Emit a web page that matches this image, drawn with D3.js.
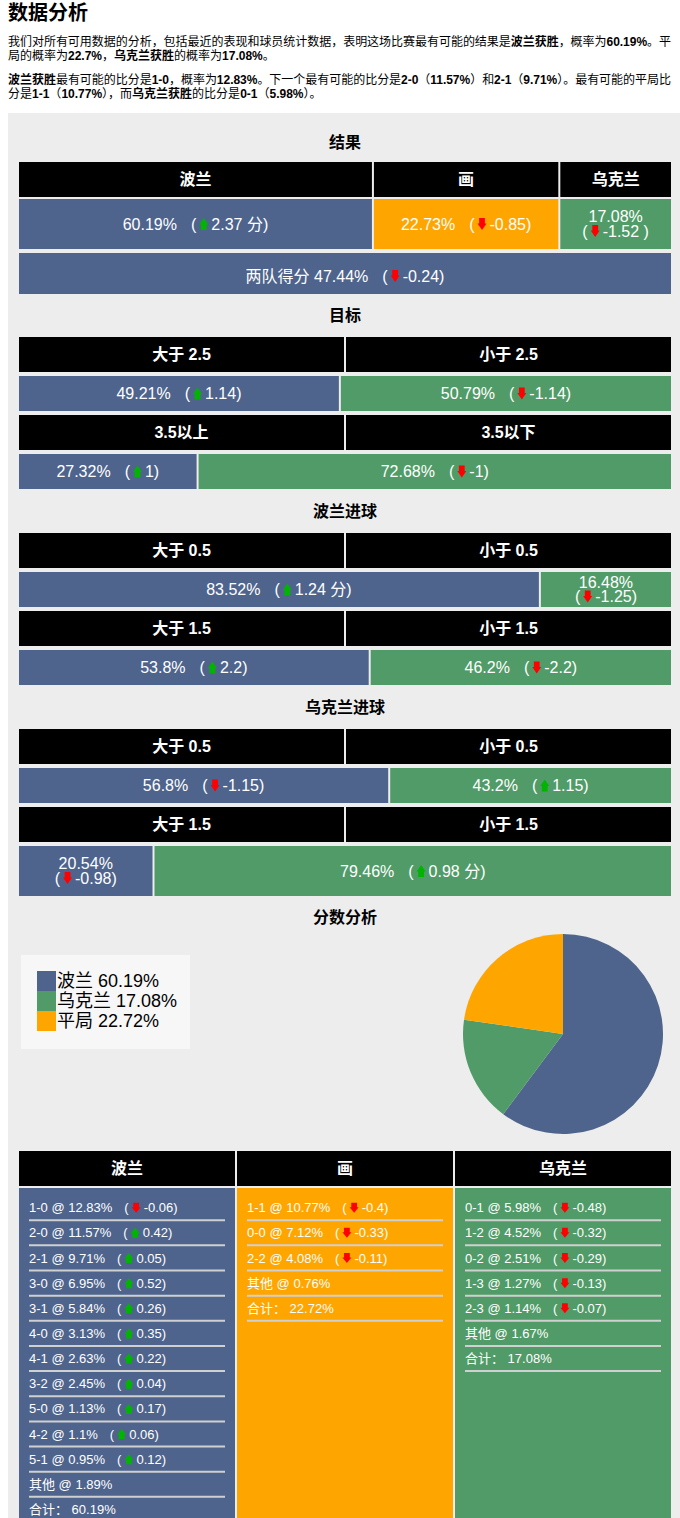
<!DOCTYPE html>
<html><head><meta charset="utf-8">
<script src="https://cdn.jsdelivr.net/npm/d3@7"></script>
<style>
html,body{margin:0;padding:0;background:#fff;}
svg{display:block;font-family:"Liberation Sans",Arial,"Noto Sans CJK SC",sans-serif;}
</style></head><body>
<svg id="chart" width="680" height="1518"></svg>
<script>
// ---------------- DATA ----------------
const pageTitle = '数据分析';
const para1Lines = [
  [['我们对所有可用数据的分析，包括最近的表现和球员统计数据，表明这场比赛最有可能的结果是',0],['波兰获胜',1],['，概率为',0],['60.19%',1],['。平',0]],
  [['局的概率为',0],['22.7%',1],['，',0],['乌克兰获胜',1],['的概率为',0],['17.08%',1],['。',0]]
];
const para2Lines = [
  [['波兰获胜',1],['最有可能的比分是',0],['1-0',1],['，概率为',0],['12.83%',1],['。下一个最有可能的比分是',0],['2-0',1],['（',0],['11.57%',1],['）和',0],['2-1',1],['（',0],['9.71%',1],['）。最有可能的平局比',0]],
  [['分是',0],['1-1',1],['（',0],['10.77%',1],['），而',0],['乌克兰获胜',1],['的比分是',0],['0-1',1],['（',0],['5.98%',1],['）。',0]]
];

const resultTitle = '结果';
const resultLabels = ['波兰', '画', '乌克兰'];
const resultValues = [60.19, 22.73, 17.08];
const resultChanges = [2.37, -0.85, -1.52];
const resultUnits = [' 分', '', ' '];

const bttsLabel = '两队得分';
const bttsValue = 47.44;
const bttsChange = -0.24;

const sectionTitles = ['目标', '波兰进球', '乌克兰进球'];
const totalGoalsHeaders = [['大于 2.5', '小于 2.5'], ['3.5以上', '3.5以下']];
const totalGoalsValues = [[49.21, 50.79], [27.32, 72.68]];
const totalGoalsChanges = [[1.14, -1.14], [1, -1]];
const totalGoalsUnits = [['', ''], ['', '']];

const polandGoalsHeaders = [['大于 0.5', '小于 0.5'], ['大于 1.5', '小于 1.5']];
const polandGoalsValues = [[83.52, 16.48], [53.8, 46.2]];
const polandGoalsChanges = [[1.24, -1.25], [2.2, -2.2]];
const polandGoalsUnits = [[' 分', ''], ['', '']];

const ukraineGoalsHeaders = [['大于 0.5', '小于 0.5'], ['大于 1.5', '小于 1.5']];
const ukraineGoalsValues = [[56.8, 43.2], [20.54, 79.46]];
const ukraineGoalsChanges = [[-1.15, 1.15], [-0.98, 0.98]];
const ukraineGoalsUnits = [['', ''], ['', ' 分']];

const scoreTitle = '分数分析';
const pieLabels = ['波兰', '乌克兰', '平局'];
const pieValues = [60.19, 17.08, 22.72];

const scoreColumns = ['波兰', '画', '乌克兰'];
const polandScores = ['1-0','2-0','2-1','3-0','3-1','4-0','4-1','3-2','5-0','4-2','5-1'];
const polandProbs = [12.83, 11.57, 9.71, 6.95, 5.84, 3.13, 2.63, 2.45, 1.13, 1.1, 0.95];
const polandChanges = [-0.06, 0.42, 0.05, 0.52, 0.26, 0.35, 0.22, 0.04, 0.17, 0.06, 0.12];
const polandOther = 1.89, polandTotal = 60.19;
const drawScores = ['1-1','0-0','2-2'];
const drawProbs = [10.77, 7.12, 4.08];
const drawChanges = [-0.4, -0.33, -0.11];
const drawOther = 0.76, drawTotal = 22.72;
const ukraineScores = ['0-1','1-2','0-2','1-3','2-3'];
const ukraineProbs = [5.98, 4.52, 2.51, 1.27, 1.14];
const ukraineChanges = [-0.48, -0.32, -0.29, -0.13, -0.07];
const ukraineOther = 1.67, ukraineTotal = 17.08;

// ---------------- STYLE / LAYOUT ----------------
const BLUE = '#4e648d', GREEN = '#519b68', ORANGE = '#ffa500', PANEL = '#ededed';
const UPC = '#00b400', DOWNC = '#ff0000';
const L = 19, R = 671, CW = R - L, CX = (L + R) / 2;

const svg = d3.select('#chart');
const meas = svg.append('text').attr('visibility', 'hidden');
function tw(str, size, weight) {
  meas.attr('font-size', size).attr('font-weight', weight || 'normal').text(str);
  return meas.node().getComputedTextLength();
}
function arrowPath(x, cy, w, h, up) {
  const hh = h * 0.55, s1 = x + w * 0.18, s2 = x + w * 0.82;
  const t = cy - h / 2, b = cy + h / 2;
  if (up) {
    return `M${x + w / 2},${t}L${x + w},${t + hh}L${s2},${t + hh}L${s2},${b}L${s1},${b}L${s1},${t + hh}L${x},${t + hh}Z`;
  }
  return `M${s1},${t}L${s2},${t}L${s2},${b - hh}L${x + w},${b - hh}L${x + w / 2},${b}L${x},${b - hh}L${s1},${b - hh}Z`;
}
function changePart(g, x, cy, change, unit, size, aw, ah) {
  g.append('text').attr('x', x).attr('y', cy).attr('dy', '0.35em').attr('font-size', size).attr('fill', '#fff').text('(');
  x += tw('(', size) + 3;
  g.append('path').attr('d', arrowPath(x, cy, aw, ah, change >= 0)).attr('fill', change >= 0 ? UPC : DOWNC);
  x += aw + 3;
  const s = String(change) + unit + ')';
  g.append('text').attr('x', x).attr('y', cy).attr('dy', '0.35em').attr('font-size', size).attr('fill', '#fff').text(s);
  return x + tw(s, size);
}
function changeWidth(change, unit, size, aw) { return tw('(', size) + 3 + aw + 3 + tw(String(change) + unit + ')', size); }

function inlineLabel(g, prefix, change, unit, cx, cy, size, gap, aw, ah) {
  const a = tw(prefix, size);
  const total = a + gap + changeWidth(change, unit, size, aw);
  const x = cx - total / 2;
  g.append('text').attr('x', x).attr('y', cy).attr('dy', '0.35em').attr('font-size', size).attr('fill', '#fff').text(prefix);
  changePart(g, x + a + gap, cy, change, unit, size, aw, ah);
}
function wrappedLabel(g, prefix, change, unit, cx, cy, size, aw, ah) {
  g.append('text').attr('x', cx).attr('y', cy - 7.5).attr('dy', '0.35em').attr('text-anchor', 'middle')
    .attr('font-size', size).attr('fill', '#fff').text(prefix);
  const w = changeWidth(change, unit, size, aw);
  changePart(g, cx - w / 2, cy + 7, change, unit, size, aw, ah);
}

function layoutRow(values, changes, units) {
  const n = values.length, gap = 2, padS = 27, padW = n === 2 ? 34 : 20;
  const W = CW - gap * (n - 1);
  const x = d3.scaleLinear().domain([0, 100]).range([0, W]);
  const cells = values.map((v, i) => {
    const ideal = x(v);
    const pre = v + '%';
    const single = tw(pre, 16) + 14 + changeWidth(changes[i], units[i], 16, 9) + 2 * padS;
    const wrapW = Math.max(tw(pre, 16), changeWidth(changes[i], units[i], 16, 9)) + 2 * padW;
    let w = ideal, wrap = false;
    if (ideal < single) {
      if (single - ideal <= 40) w = single;
      else { w = Math.max(ideal, wrapW); wrap = true; }
    }
    return { v, i, w, wrap, pre };
  });
  const excess = d3.sum(cells, d => d.w) - W;
  cells[d3.maxIndex(cells, d => d.w)].w -= excess;
  let cx = L;
  cells.forEach(c => { c.x = cx; cx += c.w + gap; });
  return cells;
}
function drawValueRow(cells, changes, units, colors, y, h) {
  const g = svg.append('g');
  g.selectAll('rect').data(cells).join('rect')
    .attr('x', d => d.x).attr('y', y).attr('width', d => d.w).attr('height', h).attr('fill', d => colors[d.i]);
  cells.forEach(c => {
    const cx = c.x + c.w / 2, cy = y + h / 2;
    if (c.wrap) wrappedLabel(g, c.pre, changes[c.i], units[c.i], cx, cy, 16, 9, 12);
    else inlineLabel(g, c.pre, changes[c.i], units[c.i], cx, cy, 16, 14, 9, 12);
  });
}
function drawHeaderCells(cells, labels, y, h) {
  const g = svg.append('g');
  g.selectAll('rect').data(cells).join('rect')
    .attr('x', d => d.x).attr('y', y).attr('width', d => d.w).attr('height', h).attr('fill', '#000');
  g.selectAll('text').data(cells).join('text')
    .attr('x', d => d.x + d.w / 2).attr('y', y + h / 2).attr('dy', '0.36em').attr('text-anchor', 'middle')
    .attr('font-size', 16).attr('font-weight', 'bold').attr('fill', '#fff').text((d, i) => labels[i]);
}
function bandCells(labels) {
  const gap = 2, step = (CW + gap) / labels.length;
  const b = d3.scaleBand().domain(labels.map((d, i) => i)).range([L, R]).paddingInner(gap / step).paddingOuter(0);
  return labels.map((d, i) => ({ i, x: b(i), w: b.bandwidth() }));
}
function sectionTitle(text, y) {
  svg.append('text').attr('x', CX).attr('y', y).attr('dy', '0.36em').attr('text-anchor', 'middle')
    .attr('font-size', 16).attr('font-weight', 'bold').attr('fill', '#000').text(text);
}

// ---------------- PAGE ----------------
svg.append('text').attr('x', 8).attr('y', 13).attr('dy', '0.37em').attr('font-size', 20).attr('font-weight', 'bold').text(pageTitle);
function paraLine(segs, y, full) {
  const t = svg.append('text').attr('x', 8).attr('y', y).attr('dy', '0.36em').attr('font-size', 12).attr('fill', '#000');
  segs.forEach(([s, b]) => t.append('tspan').attr('font-weight', b ? 'bold' : 'normal').text(s));
  if (full) t.attr('textLength', 663).attr('lengthAdjust', 'spacing');
}
paraLine(para1Lines[0], 42, true);
paraLine(para1Lines[1], 55.5, false);
paraLine(para2Lines[0], 80, true);
paraLine(para2Lines[1], 93.5, false);

svg.append('rect').attr('x', 8).attr('y', 113).attr('width', 672).attr('height', 1420).attr('fill', PANEL);

// Results
sectionTitle(resultTitle, 142);
const resCells = layoutRow(resultValues, resultChanges, resultUnits);
drawHeaderCells(resCells, resultLabels, 162, 35);
drawValueRow(resCells, resultChanges, resultUnits, [BLUE, ORANGE, GREEN], 199, 50);
{
  const g = svg.append('g');
  const x = d3.scaleLinear().domain([0, 1]).range([L, R]);
  g.append('rect').attr('x', x(0)).attr('y', 253).attr('width', x(1) - x(0)).attr('height', 41).attr('fill', BLUE);
  inlineLabel(g, bttsLabel + ' ' + bttsValue + '%', bttsChange, '', CX, 276, 16, 14, 9, 12);
}

// goal sections
const sections = [
  [totalGoalsHeaders, totalGoalsValues, totalGoalsChanges, totalGoalsUnits, [35, 35]],
  [polandGoalsHeaders, polandGoalsValues, polandGoalsChanges, polandGoalsUnits, [35, 35]],
  [ukraineGoalsHeaders, ukraineGoalsValues, ukraineGoalsChanges, ukraineGoalsUnits, [35, 50]]
];
let y = 315;
sections.forEach((sec, si) => {
  const [hdrs, vals, chgs, units, heights] = sec;
  sectionTitle(sectionTitles[si], y);
  let yy = y + 22;
  hdrs.forEach((h, r) => {
    drawHeaderCells(bandCells(h), h, yy, 35);
    yy += 39;
    const cells = layoutRow(vals[r], chgs[r], units[r]);
    drawValueRow(cells, chgs[r], units[r], [BLUE, GREEN], yy, heights[r]);
    yy += heights[r] + 4;
  });
  y = yy - 4 + 22;
});

// Score analysis: legend + pie
sectionTitle(scoreTitle, 917);
const pieColors = d3.scaleOrdinal().domain(pieLabels).range([BLUE, GREEN, ORANGE]);
{
  const g = svg.append('g');
  g.append('rect').attr('x', 21).attr('y', 955).attr('width', 169).attr('height', 94).attr('fill', '#f7f7f7');
  const ly = d3.scaleBand().domain(pieLabels).range([971, 1031]);
  g.selectAll('rect.sw').data(pieLabels).join('rect').attr('class', 'sw')
    .attr('x', 37).attr('y', d => ly(d)).attr('width', 19).attr('height', ly.bandwidth()).attr('fill', d => pieColors(d));
  g.selectAll('text').data(pieLabels).join('text')
    .attr('x', 57).attr('y', d => ly(d) + ly.bandwidth() / 2).attr('dy', '0.35em').attr('font-size', 18).attr('fill', '#000')
    .text((d, i) => d + ' ' + pieValues[i] + '%');
  const pie = d3.pie().sort(null).value(d => d);
  const arc = d3.arc().innerRadius(0).outerRadius(100);
  const pg = g.append('g').attr('transform', 'translate(563,1034)');
  pg.selectAll('path').data(pie(pieValues)).join('path').attr('d', arc).attr('fill', (d, i) => pieColors(pieLabels[i]));
}

// Score tables
{
  const cols = bandCells(scoreColumns);
  drawHeaderCells(cols, scoreColumns, 1151, 35);
  const bodyColors = [BLUE, ORANGE, GREEN];
  const lists = [
    [polandScores, polandProbs, polandChanges, polandOther, polandTotal],
    [drawScores, drawProbs, drawChanges, drawOther, drawTotal],
    [ukraineScores, ukraineProbs, ukraineChanges, ukraineOther, ukraineTotal]
  ];
  const rowY = d3.scaleLinear().domain([0, 1]).range([1207.7, 1232.85]);
  cols.forEach((c, ci) => {
    const g = svg.append('g');
    g.append('rect').attr('x', c.x).attr('y', 1188).attr('width', c.w).attr('height', 345).attr('fill', bodyColors[ci]);
    const [sc, pr, ch, oth, tot] = lists[ci];
    const x0 = c.x + 10, x1 = c.x + c.w - 10;
    const n = sc.length + 2;
    for (let k = 0; k < n; k++) {
      const cy = rowY(k);
      if (k < sc.length) {
        const pre = sc[k] + ' @ ' + pr[k] + '%';
        const a = tw(pre, 13);
        g.append('text').attr('x', x0).attr('y', cy).attr('dy', '0.35em').attr('font-size', 13).attr('fill', '#fff').text(pre);
        changePart(g, x0 + a + 12, cy, ch[k], '', 13, 9, 10);
      } else {
        const s = k === sc.length ? '其他 @ ' + oth + '%' : '合计：  ' + tot + '%';
        g.append('text').attr('x', x0).attr('y', cy).attr('dy', '0.35em').attr('font-size', 13).attr('fill', '#fff').text(s);
      }
      g.append('line').attr('x1', x0).attr('x2', x1).attr('y1', cy + 12.5).attr('y2', cy + 12.5)
        .attr('stroke', '#d0d0d0').attr('stroke-width', 2);
    }
  });
}
meas.remove();
</script>
</body></html>
